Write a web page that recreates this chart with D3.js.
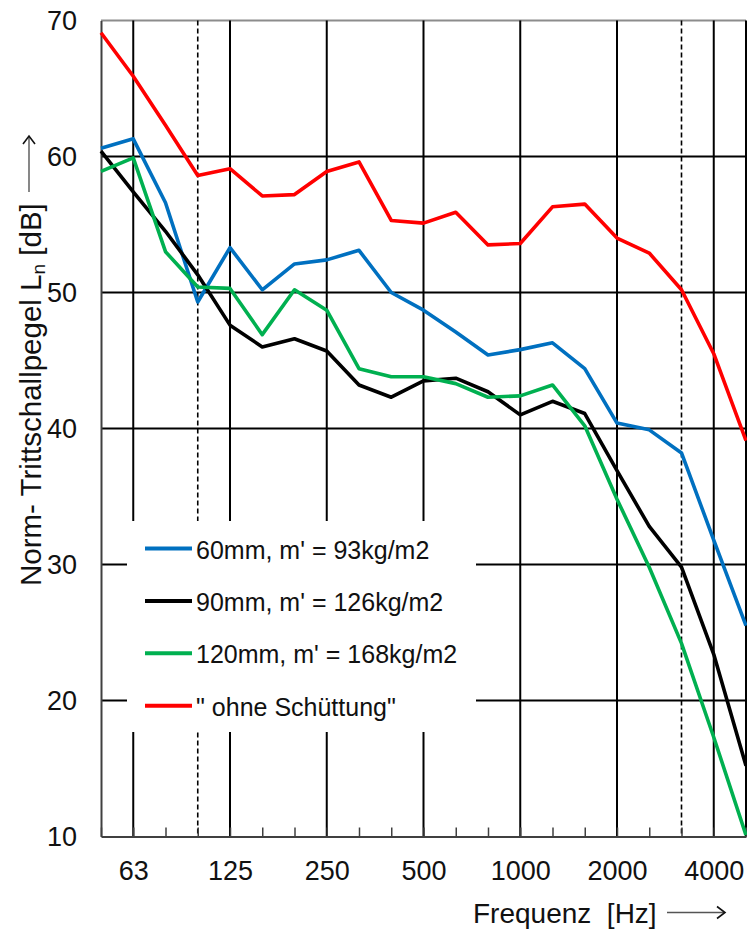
<!DOCTYPE html>
<html>
<head>
<meta charset="utf-8">
<script src="https://cdn.jsdelivr.net/npm/d3@7"></script>
<style>
  html, body { margin: 0; padding: 0; background: #fff; }
  svg { display: block; font-family: "Liberation Sans", Arial, sans-serif; }
</style>
</head>
<body>
<svg id="chart" width="747" height="930"></svg>
<script>
// ------------------------------------------------------
// DATA - third-octave bands and Ln values [dB]
// ------------------------------------------------------
var bands = ["50", "63", "80", "100", "125", "160", "200", "250", "315", "400", "500",
             "630", "800", "1000", "1250", "1600", "2000", "2500", "3150", "4000", "5000"];

var ln60mm  = [60.6, 61.3, 56.6, 49.3, 53.3, 50.2, 52.1, 52.4, 53.1, 50.0, 48.7,
               47.1, 45.4, 45.8, 46.3, 44.4, 40.4, 39.9, 38.2, 31.8, 25.5];
var ln90mm  = [60.4, 57.4, 54.5, 51.3, 47.6, 46.0, 46.6, 45.7, 43.2, 42.3, 43.5,
               43.7, 42.7, 41.0, 42.0, 41.1, 36.9, 32.8, 29.8, 23.4, 15.2];
var ln120mm = [58.9, 59.9, 53.0, 50.4, 50.3, 46.9, 50.2, 48.7, 44.4, 43.8, 43.8,
               43.3, 42.3, 42.4, 43.2, 40.2, 34.8, 29.8, 24.2, 17.3, 10.1];
var lnOhne  = [69.1, 65.9, 62.3, 58.6, 59.1, 57.1, 57.2, 58.9, 59.6, 55.3, 55.1,
               55.9, 53.5, 53.6, 56.3, 56.5, 54.0, 52.9, 50.2, 45.5, 39.1];

var seriesNames = ["60mm, m' = 93kg/m2", "90mm, m' = 126kg/m2", "120mm, m' = 168kg/m2", "\" ohne Schüttung\""];
var seriesColors = ["#0070C0", "#000000", "#00B050", "#FF0000"];

var yTicks = [10, 20, 30, 40, 50, 60, 70];
var xLabels = ["63", "125", "250", "500", "1000", "2000", "4000"];
var majorBands = ["63", "125", "250", "500", "1000", "2000", "4000", "5000"];
var dashedBands = ["100", "3150"];

// ------------------------------------------------------
// setup
// ------------------------------------------------------
var svg = d3.select("#chart");
var pLeft = 101, pRight = 746, pTop = 20.5, pBottom = 836.5;

var x = d3.scalePoint().domain(bands).range([pLeft, pRight]).padding(0);
var y = d3.scaleLinear().domain([10, 70]).range([pBottom, pTop]);

// horizontal grid
svg.append("g")
  .selectAll("line")
  .data([20, 30, 40, 50, 60])
  .enter().append("line")
  .attr("x1", pLeft).attr("x2", pRight)
  .attr("y1", function(d) { return y(d); })
  .attr("y2", function(d) { return y(d); })
  .attr("stroke", "#000").attr("stroke-width", 2);

// top border
svg.append("line")
  .attr("x1", pLeft).attr("x2", pRight)
  .attr("y1", pTop).attr("y2", pTop)
  .attr("stroke", "#8c8c8c").attr("stroke-width", 2);

// vertical grid
svg.append("g")
  .selectAll("line")
  .data(majorBands.concat(dashedBands))
  .enter().append("line")
  .attr("x1", function(d) { return x(d); })
  .attr("x2", function(d) { return x(d); })
  .attr("y1", pTop).attr("y2", pBottom)
  .attr("stroke", "#000")
  .attr("stroke-width", function(d) { return dashedBands.indexOf(d) >= 0 ? 1.6 : 2; })
  .attr("stroke-dasharray", function(d) { return dashedBands.indexOf(d) >= 0 ? "5,3" : null; });

// bottom axis with small inner ticks
svg.append("g")
  .attr("transform", "translate(0," + pBottom + ")")
  .call(d3.axisBottom(x).tickSizeInner(-9).tickSizeOuter(0).tickFormat(""))
  .call(function(g) {
    g.select(".domain").attr("stroke", "#404040").attr("stroke-width", 2);
    g.selectAll(".tick line").attr("stroke", "#404040").attr("stroke-width", 1.5);
  });

// bottom labels
svg.append("g")
  .attr("transform", "translate(0," + pBottom + ")")
  .call(d3.axisBottom(x).tickValues(xLabels).tickSize(0).tickPadding(24))
  .call(function(g) {
    g.select(".domain").remove();
    g.selectAll("text")
      .attr("font-family", "'Liberation Sans', Arial, sans-serif")
      .attr("font-size", 27).attr("fill", "#111");
  });

// left axis
svg.append("g")
  .attr("transform", "translate(" + pLeft + ",0)")
  .call(d3.axisLeft(y).tickValues(yTicks).tickSize(0).tickPadding(24))
  .call(function(g) {
    g.select(".domain").attr("stroke", "#404040").attr("stroke-width", 2);
    g.selectAll("text")
      .attr("font-family", "'Liberation Sans', Arial, sans-serif")
      .attr("font-size", 27).attr("fill", "#111");
  });

// legend box (white, covers grid)
var legend = svg.append("g");
legend.append("rect")
  .attr("x", 127).attr("y", 521)
  .attr("width", 349).attr("height", 211)
  .attr("fill", "#fff");

var allSeries = [ln60mm, ln90mm, ln120mm, lnOhne];

var item = legend.selectAll("g.item")
  .data(seriesNames)
  .enter().append("g")
  .attr("class", "item")
  .attr("transform", function(d, i) { return "translate(145," + (548.5 + i * 52.4) + ")"; });

item.append("line")
  .attr("x1", 0).attr("x2", 47)
  .attr("stroke", function(d, i) { return seriesColors[i]; })
  .attr("stroke-width", 4);

item.append("text")
  .attr("x", 51).attr("dy", "0.4em")
  .attr("font-size", 25).attr("fill", "#111")
  .text(function(d) { return d; });

// data lines
var line = d3.line()
  .x(function(d, i) { return x(bands[i]); })
  .y(function(d) { return y(d); });

svg.append("g")
  .selectAll("path")
  .data(allSeries)
  .enter().append("path")
  .attr("d", line)
  .attr("fill", "none")
  .attr("stroke", function(d, i) { return seriesColors[i]; })
  .attr("stroke-width", 3.6)
  .attr("stroke-linejoin", "round");

// x title
svg.append("text")
  .attr("x", 473).attr("y", 923)
  .attr("font-size", 28).attr("fill", "#111")
  .attr("xml:space", "preserve")
  .text("Frequenz  [Hz]");

function arrow(g, x1, y1, x2, y2) {
  g.append("line")
    .attr("x1", x1).attr("y1", y1).attr("x2", x2).attr("y2", y2)
    .attr("stroke", "#555").attr("stroke-width", 1.4);
}

// x arrow
var xa = svg.append("g");
arrow(xa, 667, 912.5, 724, 912.5);
xa.append("path")
  .attr("d", "M717,906.5 L725,912.5 L717,918.5")
  .attr("fill", "none").attr("stroke", "#111").attr("stroke-width", 1.6);

// y title (rotated)
var yt = svg.append("text")
  .attr("transform", "translate(41,586) rotate(-90)")
  .attr("font-size", 29.5).attr("fill", "#111");
yt.append("tspan").text("Norm- Trittschallpegel L");
yt.append("tspan").attr("font-size", 19).attr("dy", 4).text("n");
yt.append("tspan").attr("dy", -4).text(" [dB]");

// y arrow
var ya = svg.append("g");
arrow(ya, 29, 192, 29, 137);
ya.append("path")
  .attr("d", "M23,144 L29,136 L35,144")
  .attr("fill", "none").attr("stroke", "#111").attr("stroke-width", 1.6);
</script>
</body>
</html>
